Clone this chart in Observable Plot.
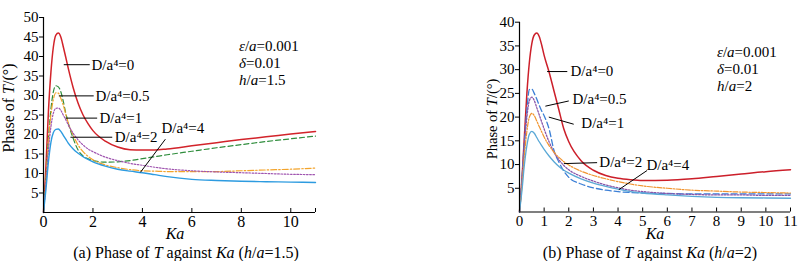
<!DOCTYPE html>
<html><head><meta charset="utf-8">
<script src="https://cdn.jsdelivr.net/npm/d3@7"></script>
<script src="https://cdn.jsdelivr.net/npm/@observablehq/plot@0.6"></script>
<style>
body{margin:0;background:#fff;}
#wrap{position:relative;width:812px;height:261px;overflow:hidden;font-family:"Liberation Serif", serif;color:#000;}
.abs{position:absolute;white-space:nowrap;line-height:1;font-family:"Liberation Serif", serif;}
.c{transform:translate(-50%,-50%);}
.rot{transform:translate(-50%,-50%) rotate(-90deg);}
.params{position:absolute;font-size:15px;line-height:17px;white-space:nowrap;font-family:"Liberation Serif", serif;}
svg{position:absolute;top:0;overflow:visible;}
svg text{font-family:"Liberation Serif", serif;}
</style></head>
<body><div id="wrap"></div>
<script>
// ---------- data ----------
const ka = [0,0.1,0.2,0.3,0.4,0.5,0.6,0.7,0.8,0.9,1,1.2,1.4,1.6,1.8,2,2.5,3,3.5,4,4.5,5,6,7,8,9,10,11];

// (a) h/a = 1.5
const a_D0   = [0,12,26,36,42.5,45.5,46,45,42.5,39.8,37,32,28,25,22.8,21,18.3,16.8,16.1,16,16,16.3,17.1,17.9,18.7,19.4,20.1,20.8];
const a_D05  = [0,9,19,26.5,31,32.5,32.2,31,28.5,25.5,23,19,16,14.5,13.8,13.3,12.9,13,13.3,13.8,14.3,14.8,15.7,16.6,17.4,18.2,18.9,19.6];
const a_D1   = [0,8.5,18,25,29,30.7,30.6,29.3,27.5,25.2,23,19.8,17.3,15.6,14.4,13.5,12.2,11.5,11,10.7,10.6,10.5,10.5,10.5,10.7,10.9,11.1,11.4];
const a_D2   = [0,7.5,16,22,25.5,26.7,26.8,26.2,25,23.8,22.5,20.3,18.6,17.3,16.3,15.6,14.2,13.3,12.6,12.1,11.6,11.2,10.7,10.4,10.2,10,9.8,9.7];
const a_D4   = [0,6,13,18,20.5,21.3,21.4,20.8,19.8,18.8,17.8,16.3,15.2,14.3,13.6,13,11.9,11.1,10.6,10.2,9.7,9.2,8.5,8.2,8,7.9,7.8,7.7];

// (b) h/a = 2
const b_D0   = [0,7,16,25,31.5,35.5,37.3,37.7,37,35.2,33,29.5,25.5,21.5,17.5,14.8,10.8,8.8,7.7,7.1,6.8,6.65,6.7,7,7.5,8,8.5,8.9];
const b_D05  = [0,7,15,21.5,25.8,25.9,25,23.8,22.5,21.3,20.3,17.5,13,10.5,8.6,7.3,5.9,5.1,4.6,4.3,4.1,4,3.9,3.8,3.8,3.8,3.8,3.8];
const b_D1   = [0,6.5,14,20,23.5,24.2,23.5,22,20.5,19,17.5,14.8,12.6,11,9.8,8.9,7.5,6.5,5.7,5.1,4.6,4.3,3.9,3.7,3.6,3.6,3.5,3.5];
const b_D2   = [0,5.5,12,17,20,20.8,20.3,19.2,18,16.9,15.8,14,12.6,11.5,10.6,9.9,8.6,7.7,7,6.4,5.9,5.5,5,4.6,4.4,4.2,4.1,4.0];
const b_D4   = [0,4.5,10,14,16.4,17,16.6,15.7,14.8,14,13.2,11.8,10.6,9.6,8.8,8.2,7,6.1,5.4,4.8,4.3,4,3.6,3.3,3.1,3,2.95,2.9];

// tick labels
const a_xTicks = [0,2,4,6,8,10];
const a_xMarks = [2,4,6,8,10,11];
const a_yTicks = [5,10,15,20,25,30,35,40,45,50];
const b_xTicks = [0,1,2,3,4,5,6,7,8,9,10,11];
const b_yTicks = [5,10,15,20,25,30,35,40];

// annotations (label, arrow tail x/y, arrow head x/y, text x/y) in data units
const a_annLabel = ["D/a⁴=0","D/a⁴=0.5","D/a⁴=1","D/a⁴=2","D/a⁴=4"];
const a_annX1 = [0.82,0.62,0.89,1.09,3.92];
const a_annY1 = [37.9,29.9,24.2,19.3,10.3];
const a_annX2 = [1.87,2.03,2.17,2.78,4.93];
const a_annY2 = [37.9,29.9,24.2,19.3,18.8];
const a_annTX = [1.9,2.06,2.22,2.84,4.73];
const a_annTY = [37.9,29.9,24.2,19.3,21.5];

const b_annLabel = ["D/a⁴=0","D/a⁴=0.5","D/a⁴=1","D/a⁴=2","D/a⁴=4"];
const b_annX1 = [1.12,1.05,1.19,1.8,4.03];
const b_annY1 = [29.6,22.3,20.0,10.2,4.7];
const b_annX2 = [1.94,2.0,2.2,3.15,5.18];
const b_annY2 = [29.6,23.4,18.5,10.4,8.75];
const b_annTX = [2.03,2.11,2.47,3.2,5.11];
const b_annTY = [29.6,23.7,18.7,10.5,9.96];

const a_params = ["ε/a=0.001","δ=0.01","h/a=1.5"];
const b_params = ["ε/a=0.001","δ=0.01","h/a=2"];
const a_caption = "(a) Phase of T against Ka (h/a=1.5)";
const b_caption = "(b) Phase of T against Ka (h/a=2)";

// ---------- styles ----------
const a_styles = [
  {stroke:"#d2232a", dash:null, w:1.5},
  {stroke:"#2f8d3c", dash:"5,3", w:1.2},
  {stroke:"#f3a42c", dash:"6,2,1.5,2", w:1.2},
  {stroke:"#a055b0", dash:"1.6,1.6", w:1.2},
  {stroke:"#2d9be0", dash:null, w:1.4}
];
const b_styles = [
  {stroke:"#cc1f2a", dash:null, w:1.5},
  {stroke:"#3c7fd6", dash:"6,3", w:1.3},
  {stroke:"#8b55a8", dash:"1.6,1.6", w:1.3},
  {stroke:"#f19530", dash:"5,1.5,1.5,1.5", w:1.2},
  {stroke:"#5aa8d6", dash:null, w:1.3}
];

const FONT = '"Liberation Serif", serif';

function table(xs, ys){ return xs.map((x,i)=>({x, y: ys[i]})); }
function annTable(L,X1,Y1,X2,Y2,TX,TY){ return L.map((l,i)=>({label:l,x1:X1[i],y1:Y1[i],x2:X2[i],y2:Y2[i],tx:TX[i],ty:TY[i]})); }

function richText(svg, aria){
  d3.select(svg).selectAll(`g[aria-label="${aria}"] text`).each(function(){
    const s = this.textContent; const el = d3.select(this); el.text(null);
    for (const m of s.matchAll(/([A-Za-zεδ]+)|([^A-Za-zεδ]+)/g)) {
      el.append("tspan").attr("font-style", m[1] ? "italic" : "normal").text(m[0]);
    }
  });
}
function arrowHeads(svg, aria, id){
  const s = d3.select(svg);
  s.append("defs").append("marker").attr("id", id).attr("viewBox","0 0 10 10")
    .attr("refX",10).attr("refY",5).attr("markerUnits","userSpaceOnUse")
    .attr("markerWidth",8).attr("markerHeight",6).attr("orient","auto")
    .append("path").attr("d","M0,0L10,5L0,10Z").attr("fill","#000");
  s.selectAll(`g[aria-label="${aria}"] path`).attr("marker-end", `url(#${id})`);
}
function htmlRich(s){
  return s.replace(/([A-Za-zεδ]+)|([^A-Za-zεδ]+)/g, (m, a) => a ? `<i>${a}</i>` : m);
}
function richCaption(s){
  return s.replace(/ T /, " <i>T</i> ").replace(/Ka/, "<i>Ka</i>").replace(/\(h\/a/, "(<i>h</i>/<i>a</i>");
}

function makePanel(opts){
  const {width, height, mL, mR, mT, mB, yMax, xTicks, xMarks, yTicks, series, styles, ann, xFont, yFont, id} = opts;
  const frameH = height - mT - mB;
  const marks = [];
  series.forEach((ys, i) => {
    const st = styles[i];
    marks.push(Plot.line(table(ka, ys), {x:"x", y:"y", stroke: st.stroke, strokeWidth: st.w,
      strokeDasharray: st.dash ?? undefined, curve: "monotone-x"}));
  });
  marks.push(Plot.ruleX([0], {stroke:"#000", strokeWidth:1.2}));
  marks.push(Plot.ruleY([0], {stroke:"#000", strokeWidth:1.2}));
  marks.push(Plot.tickX(xMarks, {x: d=>d, stroke:"#000", insetTop: frameH - 4}));
  marks.push(Plot.axisY(yTicks, {tickSize:4, tickPadding:1, fontSize: yFont, fontFamily: FONT, stroke:"#000"}));
  marks.push(Plot.axisX(xTicks, {tickSize:0, tickPadding:3, fontSize: xFont, fontFamily: FONT}));
  marks.push(Plot.link(ann, {x1:"x1", y1:"y1", x2:"x2", y2:"y2", stroke:"#000", strokeWidth:1, ariaLabel:"annlink"}));
  marks.push(Plot.text(ann, {x:"tx", y:"ty", text:"label", textAnchor:"start", dx:1, fontSize:15, fontFamily: FONT, fill:"#000", ariaLabel:"anntext"}));
  const svg = Plot.plot({
    width, height, marginLeft:mL, marginRight:mR, marginTop:mT, marginBottom:mB,
    style:{fontFamily: FONT, color:"#000", background:"transparent", overflow:"visible"},
    x:{domain:[0,11], label:null},
    y:{domain:[0,yMax], label:null},
    marks
  });
  richText(svg, "anntext");
  arrowHeads(svg, "annlink", id);
  return svg;
}

const wrap = document.getElementById("wrap");

const svgA = makePanel({width:330, height:230, mL:43, mR:15, mT:17, mB:18, yMax:50,
  xTicks:a_xTicks, xMarks:a_xMarks, yTicks:a_yTicks,
  series:[a_D0,a_D05,a_D1,a_D2,a_D4], styles:a_styles,
  ann: annTable(a_annLabel,a_annX1,a_annY1,a_annX2,a_annY2,a_annTX,a_annTY),
  xFont:16, yFont:15, id:"arrA"});
svgA.style.left = "0px";
wrap.appendChild(svgA);

const svgB = makePanel({width:372, height:230, mL:79, mR:22, mT:21.7, mB:18.5, yMax:40,
  xTicks:b_xTicks, xMarks:b_xTicks.slice(1), yTicks:b_yTicks,
  series:[b_D0,b_D05,b_D1,b_D2,b_D4], styles:b_styles,
  ann: annTable(b_annLabel,b_annX1,b_annY1,b_annX2,b_annY2,b_annTX,b_annTY),
  xFont:15, yFont:15, id:"arrB"});
svgB.style.left = "440px";
wrap.appendChild(svgB);

function addDiv(cls, html, css){
  const d = document.createElement("div");
  d.className = cls; d.innerHTML = html; Object.assign(d.style, css); wrap.appendChild(d);
}
addDiv("abs rot", "Phase of <i>T</i>/(°)", {left:"9px", top:"108px", fontSize:"16px"});
addDiv("abs rot", "Phase of <i>T</i>/(°)", {left:"491.5px", top:"118.5px", fontSize:"14.5px"});
addDiv("abs c", "<i>Ka</i>", {left:"175px", top:"233.5px", fontSize:"16px"});
addDiv("abs c", "<i>Ka</i>", {left:"655px", top:"233.5px", fontSize:"16px"});
addDiv("abs c", richCaption(a_caption), {left:"186px", top:"252.5px", fontSize:"16px"});
addDiv("abs c", richCaption(b_caption), {left:"650px", top:"252.5px", fontSize:"16px"});
addDiv("params", a_params.map(htmlRich).join("<br>"), {left:"239px", top:"38px"});
addDiv("params", b_params.map(htmlRich).join("<br>"), {left:"717px", top:"43.5px"});
</script>
</body></html>
